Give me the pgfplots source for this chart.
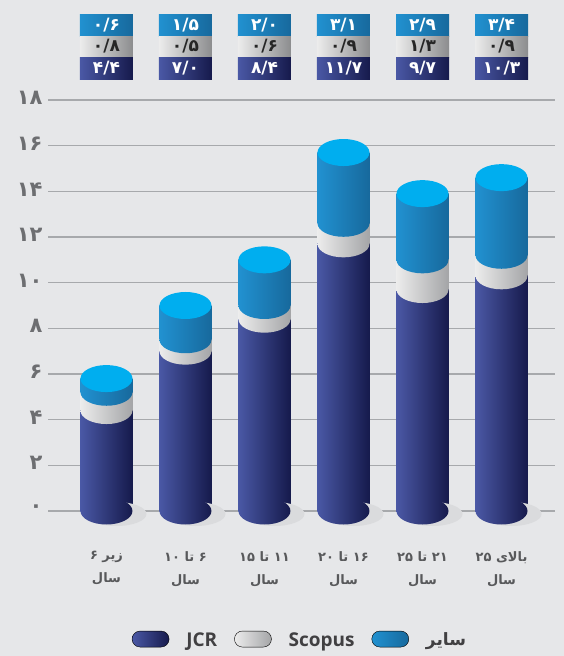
\documentclass[border=0pt]{standalone}
\usepackage{pgfplots}
\pgfplotsset{compat=1.18}
\usepackage{pgfplotstable}
\usepackage{fontspec}
\setmainfont{Open Sans}
\newfontfamily\fa[Script=Arabic]{DejaVu Sans}
\TeXXeTstate=1

\definecolor{bg}{HTML}{E6E7E9}
\definecolor{gridc}{HTML}{A7A9AC}
\definecolor{tickc}{HTML}{6D6E71}
\definecolor{labc}{HTML}{58595B}
\definecolor{legc}{HTML}{414042}
\definecolor{jL}{HTML}{4A58A5}
\definecolor{jR}{HTML}{161A4C}
\definecolor{sL}{HTML}{ECECEC}
\definecolor{sR}{HTML}{A4A5A7}
\definecolor{oL}{HTML}{2191D0}
\definecolor{oR}{HTML}{17699D}
\definecolor{capc}{HTML}{00AEEF}
\definecolor{shadowc}{HTML}{DADBDD}

\pgfdeclarehorizontalshading{shJ}{100bp}{color(0bp)=(jL); color(25bp)=(jL); color(75bp)=(jR); color(100bp)=(jR)}
\pgfdeclarehorizontalshading{shS}{100bp}{color(0bp)=(sL); color(25bp)=(sL); color(75bp)=(sR); color(100bp)=(sR)}
\pgfdeclarehorizontalshading{shO}{100bp}{color(0bp)=(oL); color(25bp)=(oL); color(75bp)=(oR); color(100bp)=(oR)}

% ellipse marks for the round parts of the cylinders
\pgfdeclareplotmark{ellJ}{\pgfpathellipse{\pgfpointorigin}{\pgfqpoint{26pt}{0pt}}{\pgfqpoint{0pt}{13.5pt}}\pgfshadepath{shJ}{0}\pgfusepath{discard}}
\pgfdeclareplotmark{ellS}{\pgfpathellipse{\pgfpointorigin}{\pgfqpoint{26pt}{0pt}}{\pgfqpoint{0pt}{13.5pt}}\pgfshadepath{shS}{0}\pgfusepath{discard}}
\pgfdeclareplotmark{ellO}{\pgfpathellipse{\pgfpointorigin}{\pgfqpoint{26pt}{0pt}}{\pgfqpoint{0pt}{13.5pt}}\pgfshadepath{shO}{0}\pgfusepath{discard}}
\pgfdeclareplotmark{capC}{\pgfpathellipse{\pgfpointorigin}{\pgfqpoint{26pt}{0pt}}{\pgfqpoint{0pt}{13.5pt}}\pgfsetfillcolor{capc}\pgfusepathqfill}
\pgfdeclareplotmark{shad}{\pgfpathellipse{\pgfqpoint{10pt}{-3pt}}{\pgfqpoint{30pt}{0pt}}{\pgfqpoint{0pt}{12pt}}\pgfsetfillcolor{shadowc}\pgfusepathqfill}

\pgfplotstableread{
x J S O
0 4.4 0.8 0.6
1 7.0 0.5 1.5
2 8.4 0.6 2.0
3 11.7 0.9 3.1
4 9.7 1.3 2.9
5 10.3 0.9 3.4
}\data

\pgfplotsset{cyl/.style={ybar, bar width=52pt, bar shift=0pt, draw=none, forget plot}}

\begin{document}
\begin{tikzpicture}
\useasboundingbox (0,0) rectangle (564pt,656pt);
\fill[bg] (0,0) rectangle (564pt,656pt);
\begin{axis}[
  at={(48pt,145pt)}, anchor=south west,
  scale only axis, width=507pt, height=411pt,
  xmin=-0.74, xmax=5.677, ymin=0, ymax=18,
  clip=false,
  axis line style={draw=none}, major tick length=0pt,
  ymajorgrids, grid style={gridc, line width=1.2pt},
  ytick={0,2,...,18},
  yticklabels={۰,۲,۴,۶,۸,۱۰,۱۲,۱۴,۱۶,۱۸},
  yticklabel style={font=\fa\bfseries\fontsize{21}{24}\selectfont, text=tickc, xshift=-2pt, yshift=2pt},
  xtick={0,...,5},
  xticklabels={
    {\beginR زیر ۶\endR\\\beginR سال\endR},
    {\beginR ۶ تا \beginL۱۰\endL\endR\\\beginR سال\endR},
    {\beginR \beginL۱۱\endL{} تا \beginL۱۵\endL\endR\\\beginR سال\endR},
    {\beginR \beginL۱۶\endL{} تا \beginL۲۰\endL\endR\\\beginR سال\endR},
    {\beginR \beginL۲۱\endL{} تا \beginL۲۵\endL\endR\\\beginR سال\endR},
    {\beginR بالای \beginL۲۵\endL\endR\\\beginR سال\endR}},
  xticklabel style={font=\fa\bfseries\fontsize{13}{23}\selectfont, text=labc, align=center, anchor=north, yshift=-37pt},
  legend style={at={(0.497,-0.314)}, anchor=center, legend columns=-1, draw=none, fill=none,
    font=\bfseries\fontsize{19}{22}\selectfont, text=legc,
    /tikz/every odd column/.append style={column sep=15pt},
    /tikz/every even column/.append style={column sep=15pt}},
]
% soft shadow under the bars
\addplot[only marks, mark=shad, forget plot] table[x=x, y expr=0] \data;
% cylinder bodies, back to front, one bar per plot so each has its own shading
\pgfplotsinvokeforeach{0,...,5}{
  \addplot[cyl, left color=oL, right color=oR, restrict x to domain=#1:#1]
    table[x=x, y expr=\thisrow{J}+\thisrow{S}+\thisrow{O}] \data;
}
\pgfplotsinvokeforeach{0,...,5}{
  \addplot[cyl, left color=sL, right color=sR, restrict x to domain=#1:#1]
    table[x=x, y expr=\thisrow{J}+\thisrow{S}] \data;
}
\pgfplotsinvokeforeach{0,...,5}{
  \addplot[cyl, left color=jL, right color=jR, restrict x to domain=#1:#1]
    table[x=x, y=J] \data;
}
% round edges
\addplot[only marks, mark=ellJ, forget plot] table[x=x, y expr=0] \data;
\addplot[only marks, mark=ellS, forget plot] table[x=x, y=J] \data;
\addplot[only marks, mark=ellO, forget plot] table[x=x, y expr=\thisrow{J}+\thisrow{S}] \data;
\addplot[only marks, mark=capC, forget plot] table[x=x, y expr=\thisrow{J}+\thisrow{S}+\thisrow{O}] \data;

% value table above the plot
\addplot[draw=none, mark=none, nodes near coords, point meta=explicit symbolic, forget plot,
  every node near coord/.append style={anchor=center, minimum width=53pt, minimum height=21.5pt, inner sep=0pt,
    left color=oL, right color=oR, text=white, font=\fa\bfseries\fontsize{17}{17}\selectfont}]
  coordinates {(0,21.26)[۰/۶] (1,21.26)[۱/۵] (2,21.26)[۲/۰] (3,21.26)[۳/۱] (4,21.26)[۲/۹] (5,21.26)[۳/۴]};
\addplot[draw=none, mark=none, nodes near coords, point meta=explicit symbolic, forget plot,
  every node near coord/.append style={anchor=center, minimum width=53pt, minimum height=21pt, inner sep=0pt,
    left color=sL, right color=sR!85!black, text=black!85, font=\fa\bfseries\fontsize{17}{17}\selectfont}]
  coordinates {(0,20.34)[۰/۸] (1,20.34)[۰/۵] (2,20.34)[۰/۶] (3,20.34)[۰/۹] (4,20.34)[۱/۳] (5,20.34)[۰/۹]};
\addplot[draw=none, mark=none, nodes near coords, point meta=explicit symbolic, forget plot,
  every node near coord/.append style={anchor=center, minimum width=53pt, minimum height=22pt, inner sep=0pt,
    left color=jL, right color=jR, text=white, font=\fa\bfseries\fontsize{17}{17}\selectfont}]
  coordinates {(0,19.40)[۴/۴] (1,19.40)[۷/۰] (2,19.40)[۸/۴] (3,19.40)[۱۱/۷] (4,19.40)[۹/۷] (5,19.40)[۱۰/۳]};

% legend
\addlegendimage{legend image code/.code={\shade[left color=jL, right color=jR, rounded corners=8pt] (0pt,-7pt) rectangle (37pt,9pt);}}
\addlegendentry{JCR}
\addlegendimage{legend image code/.code={\shade[left color=sL, right color=sR, rounded corners=8pt] (0pt,-7pt) rectangle (37pt,9pt);}}
\addlegendentry{Scopus}
\addlegendimage{legend image code/.code={\shade[left color=oL, right color=oR, rounded corners=8pt] (0pt,-7pt) rectangle (37pt,9pt);}}
\addlegendentry{{\fa\fontsize{17}{20}\selectfont\beginR سایر\endR}}
\end{axis}
\end{tikzpicture}
\end{document}
